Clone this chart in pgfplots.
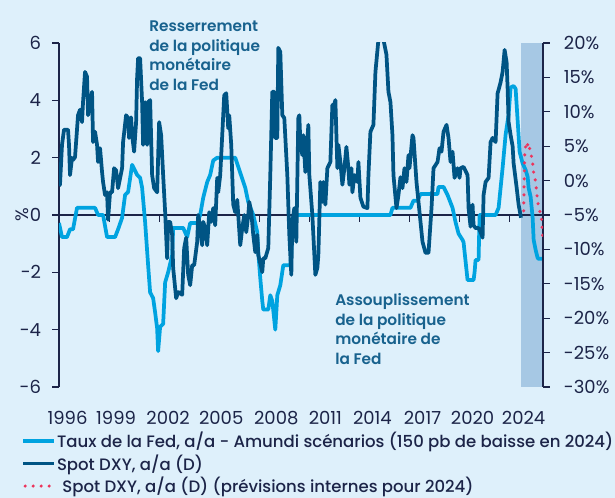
\documentclass[border=0pt]{standalone}
\usepackage{pgfplots}
\pgfplotsset{compat=1.18}
\usepackage{fontspec}
\setmainfont{Poppins}
\newfontfamily\medfont{Poppins Medium}
\newfontfamily\semifont{Poppins SemiBold}
\definecolor{bgcol}{RGB}{222,240,251}
\definecolor{fedcol}{RGB}{0,163,224}
\definecolor{dxycol}{RGB}{0,84,132}
\definecolor{fcstcol}{RGB}{236,52,92}
\definecolor{bandcol}{RGB}{166,200,228}
\definecolor{axiscol}{RGB}{28,36,72}
\definecolor{txtcol}{RGB}{28,36,72}
\definecolor{annocol}{RGB}{24,98,142}
\pgfplotsset{
  base/.style={
    at={(44.25pt,83.25pt)}, anchor=south west,
    scale only axis, width=363pt, height=258pt,
    xmin=1996, xmax=2025,
  },
  /pgf/number format/assume math mode=true,
}
\begin{document}
\begin{tikzpicture}
\fill[bgcol] (0,0) rectangle (461.25pt,373.5pt);
% forecast band
\begin{axis}[base, ymin=-6, ymax=6, hide axis]
\addplot[fill=bandcol, draw=none] coordinates {(2023.66,-6) (2023.66,6) (2024.98,6) (2024.98,-6)};
\end{axis}
% left axis: Fed
\begin{axis}[base, ymin=-6, ymax=6,
  axis y line*=left, axis x line*=middle,
  axis line style={-, draw=axiscol, line width=0.9pt},
  xtick={1999,2002,...,2023}, xticklabels={},
  ytick={-6,-4,...,6},
  tick align=outside, major tick length=5pt,
  tick style={draw=axiscol, line width=0.8pt},
  every tick label/.append style={font=\fontsize{13.5}{16}\selectfont, text=txtcol},
  yticklabel style={anchor=east, inner sep=0pt},
  yticklabel shift=8.25pt,
  ylabel={\%},
  every axis y label/.style={at={(axis description cs:-0.076,0.5)}, rotate=90, anchor=center, font=\fontsize{13.5}{16}\selectfont, text=txtcol},
]
\addplot[fedcol, line width=2.8pt, line join=round] coordinates {
(1996.00,-0.28) (1996.18,-0.77) (1996.48,-0.77) (1996.66,-0.5) (1996.84,-0.5) (1997.08,0.25) (1998.16,0.25) (1998.34,0) (1998.64,0) (1998.88,-0.77) (1999.36,-0.77) (1999.54,-0.5) (1999.78,-0.1) (1999.96,0.7) (2000.14,0.8) (2000.38,1.75) (2000.68,1.4) (2000.86,1.3) (2000.98,0.95) (2001.16,-0.25) (2001.34,-1.75) (2001.46,-2.7) (2001.64,-2.9) (2001.76,-3.4) (2001.88,-3.95) (2001.94,-4.75) (2002.06,-3.9) (2002.24,-3.8) (2002.36,-2.35) (2002.54,-2.0) (2002.78,-1.4) (2002.84,-0.45) (2003.44,-0.45) (2003.68,-0.77) (2003.86,-0.28) (2004.28,-0.28) (2004.46,0) (2004.64,0.6) (2004.88,1.15) (2005.06,1.4) (2005.24,1.9) (2005.48,2.0) (2006.56,2.0) (2006.86,1.47) (2007.16,0.95) (2007.34,0.45) (2007.64,0) (2007.88,-0.6) (2007.94,-1.3) (2008.06,-2.2) (2008.18,-3.0) (2008.24,-3.3) (2008.54,-3.3) (2008.66,-2.8) (2008.78,-3.0) (2008.96,-4.0) (2009.08,-2.8) (2009.26,-2.45) (2009.44,-1.75) (2009.86,-1.75) (2010.04,-0.25) (2010.28,0) (2015.86,0) (2015.98,0.25) (2017.06,0.25) (2017.24,0.5) (2017.48,0.5) (2017.66,0.73) (2018.68,0.73) (2018.74,0.98) (2019.04,0.98) (2019.28,0.7) (2019.58,0.25) (2019.76,-0.25) (2019.94,-0.65) (2020.18,-0.87) (2020.24,-0.95) (2020.48,-2.27) (2020.84,-2.27) (2020.90,-2.0) (2020.96,-1.57) (2021.14,-1.57) (2021.20,0) (2022.16,0) (2022.34,0.25) (2022.58,1.65) (2022.76,2.8) (2022.94,3.5) (2023.06,4.45) (2023.24,4.5) (2023.36,4.4) (2023.48,3.3) (2023.60,2.2) (2023.78,1.8) (2023.96,1.57) (2024.08,1.33) (2024.14,0.94) (2024.26,0.63) (2024.38,-0.1) (2024.44,-0.87) (2024.56,-1.22) (2024.68,-1.5) (2024.74,-1.53) (2025.00,-1.53)
};
\end{axis}
% right axis: DXY
\begin{axis}[base, ymin=-30, ymax=20,
  axis y line*=right, axis x line*=bottom,
  x axis line style={draw=none},
  y axis line style={-, draw=axiscol, line width=0.9pt},
  xtick={1996.51,1999.42,2002.54,2005.72,2009.02,2011.96,2014.78,2017.78,2020.78,2023.84},
  xticklabels={1996,1999,2002,2005,2008,2011,2014,2017,2020,2024},
  x tick style={draw=none},
  ytick={-30,-25,...,20},
  yticklabels={-30\%,-25\%,-20\%,-15\%,-10\%,-5\%,0\%,5\%,10\%,15\%,20\%},
  tick align=outside, major tick length=5pt,
  y tick style={draw=axiscol, line width=0.8pt},
  every tick label/.append style={font=\fontsize{13.5}{16}\selectfont, text=txtcol},
  yticklabel style={anchor=west, inner sep=0pt, xshift=10.5pt},
  xticklabel style={anchor=north, inner sep=0pt, yshift=-12.75pt},
  legend style={at={(axis description cs:-0.0785,-0.128)}, anchor=north west,
    draw=none, fill=none, inner sep=0pt, font=\medfont\fontsize{12.4}{14.5}\selectfont, text=txtcol,
    row sep=2.8pt, nodes={inner sep=0.5pt},
    /tikz/every odd column/.append style={column sep=0.5pt}},
  legend cell align=left,
  legend image code/.code={\draw[#1] (0pt,0pt) -- (23pt,0pt);},
]
\addlegendimage{fedcol, line width=2.8pt}
\addlegendentry{Taux de la Fed, a/a - Amundi scénarios (150 pb de baisse en 2024)}
\addplot[dxycol, line width=2.8pt, line join=round] coordinates {
(1996.00,-0.7) (1996.06,-0.6) (1996.18,5.2) (1996.30,7.4) (1996.54,7.4) (1996.60,5.2) (1996.66,0.8) (1996.78,3.3) (1996.84,3.0) (1996.96,3.4) (1997.14,9.5) (1997.26,10.3) (1997.38,8.5) (1997.44,11.4) (1997.56,15.8) (1997.68,15.1) (1997.74,9.5) (1997.86,11.4) (1997.98,12.9) (1998.04,5.6) (1998.16,7.1) (1998.28,5.2) (1998.34,2.7) (1998.46,4.7) (1998.58,1.25) (1998.64,-0.2) (1998.76,-2.1) (1998.88,-1.7) (1998.94,-5.7) (1999.06,-1.7) (1999.18,-1.7) (1999.30,1.8) (1999.42,1.5) (1999.54,-1.1) (1999.78,1.8) (1999.84,5.6) (2000.02,9.5) (2000.14,9.1) (2000.20,6.2) (2000.32,9.2) (2000.38,6.6) (2000.50,4.2) (2000.62,8.5) (2000.68,14.9) (2000.74,17.8) (2000.86,17.8) (2000.98,11.4) (2001.04,5.2) (2001.16,11.4) (2001.28,5.2) (2001.34,11.4) (2001.46,11.7) (2001.58,0.8) (2001.70,-1.1) (2001.88,-1.7) (2002.00,8.5) (2002.12,6.6) (2002.24,0.8) (2002.36,-4.6) (2002.48,-11.3) (2002.54,-6.0) (2002.66,-6.0) (2002.78,-7.9) (2002.84,-12.7) (2003.02,-17.1) (2003.14,-16.2) (2003.38,-16.6) (2003.50,-9.8) (2003.62,-8.3) (2003.74,-13.7) (2003.86,-15.2) (2003.98,-12.3) (2004.10,-12.3) (2004.28,-8.9) (2004.34,-5.0) (2004.46,-6.9) (2004.58,-9.4) (2004.64,-6.0) (2004.76,-6.9) (2004.88,-9.4) (2005.00,-4.6) (2005.12,-6.0) (2005.24,-4.0) (2005.36,-6.5) (2005.48,0.4) (2005.54,-1.7) (2005.66,0.8) (2005.78,6.6) (2005.90,12.4) (2006.02,12.7) (2006.14,7.6) (2006.20,9.5) (2006.32,5.2) (2006.44,-3.5) (2006.56,-4.6) (2006.68,-2.8) (2006.74,-5.0) (2006.86,-9.4) (2006.98,-6.9) (2007.10,-5.0) (2007.22,-7.5) (2007.34,-5.0) (2007.40,-3.1) (2007.52,-4.6) (2007.64,-7.9) (2007.76,-10.4) (2007.88,-7.9) (2007.94,-10.8) (2008.18,-13.3) (2008.24,-11.3) (2008.36,-11.3) (2008.54,-9.8) (2008.66,0.8) (2008.78,12.9) (2008.90,12.9) (2008.96,6.2) (2009.08,6.2) (2009.14,19.3) (2009.26,18.7) (2009.38,9.5) (2009.50,9.1) (2009.68,0.8) (2009.80,-7.9) (2009.92,-13.7) (2009.98,-6.0) (2010.10,-4.0) (2010.22,-8.9) (2010.34,9.1) (2010.40,9.5) (2010.46,5.6) (2010.58,3.7) (2010.64,6.6) (2010.76,1.25) (2010.94,8.1) (2011.00,0.8) (2011.18,-5.0) (2011.24,-7.9) (2011.36,-13.7) (2011.48,-12.7) (2011.54,-10.8) (2011.66,-0.2) (2011.78,-3.1) (2011.84,-0.2) (2011.96,-3.5) (2012.08,1.8) (2012.26,2.7) (2012.38,11.0) (2012.44,10.6) (2012.56,11.7) (2012.68,1.8) (2012.74,5.2) (2012.86,2.7) (2012.98,-0.6) (2013.10,1.8) (2013.22,4.9) (2013.34,1.8) (2013.40,-0.6) (2013.52,1.8) (2013.58,-1.7) (2013.70,0.8) (2013.88,-0.2) (2013.94,2.7) (2014.06,-2.5) (2014.24,-3.8) (2014.48,-4.0) (2014.54,0.8) (2014.66,7.1) (2014.84,8.1) (2014.96,15.8) (2015.14,20.5) (2015.44,20.5) (2015.62,18.3) (2015.74,12.9) (2015.86,11.4) (2015.98,6.6) (2016.04,0.8) (2016.22,-4.0) (2016.34,-2.1) (2016.46,0.5) (2016.58,-1.1) (2016.70,1.8) (2016.82,-0.2) (2016.94,3.7) (2017.00,1.8) (2017.18,6.6) (2017.24,6.2) (2017.42,-0.2) (2017.54,-3.1) (2017.78,-8.9) (2017.96,-10.5) (2018.14,-10.5) (2018.32,-4.0) (2018.44,1.8) (2018.68,2.7) (2018.80,4.7) (2018.92,4.2) (2019.04,7.1) (2019.22,8.1) (2019.34,6.2) (2019.46,2.7) (2019.58,4.2) (2019.70,0.4) (2019.88,1.8) (2020.00,0.4) (2020.06,1.8) (2020.24,2.0) (2020.48,0.8) (2020.54,-4.0) (2020.66,-6.7) (2020.78,-3.5) (2020.84,-6.5) (2020.96,-6.9) (2021.14,-6.9) (2021.26,-7.5) (2021.38,-8.3) (2021.44,-2.1) (2021.56,-0.2) (2021.74,0.4) (2021.86,5.6) (2021.98,6.2) (2022.16,5.6) (2022.28,12.7) (2022.34,13.2) (2022.46,14.3) (2022.58,15.8) (2022.70,19.0) (2022.82,17.2) (2022.88,13.4) (2022.94,8.5) (2023.06,6.6) (2023.18,5.0) (2023.24,2.5) (2023.42,-1.0) (2023.54,-3.5) (2023.68,-5.4)
};
\addlegendentry{Spot DXY, a/a (D)}
\addplot[fcstcol, line width=2.6pt, line cap=round, dash pattern=on 0pt off 6pt,
  legend image code/.code={\draw[fcstcol, line width=2.6pt, line cap=round, dash pattern=on 0pt off 6pt] (1.5pt,0pt) -- (21pt,0pt);}] coordinates {
(2023.84,-4.4) (2023.87,-0.5) (2023.90,3.6) (2023.96,5.0) (2024.02,5.6) (2024.08,5.2) (2024.14,5.5) (2024.20,4.6) (2024.26,4.2) (2024.38,2.6) (2024.44,1.1) (2024.56,-0.2) (2024.62,-1.7) (2024.68,-3.1) (2024.80,-4.4) (2024.92,-5.7) (2024.95,-7.0) (2024.98,-8.2)
};
\addlegendentry{\hspace{4pt}Spot DXY, a/a (D) (prévisions internes pour 2024)}
\end{axis}
% annotations
\node[anchor=north west, inner sep=0pt, align=left, text=annocol, font=\semifont\fontsize{11.5}{14.6}\selectfont] at (111.75pt,358pt) {Resserrement\\de la politique\\monétaire\\de la Fed};
\node[anchor=north west, inner sep=0pt, align=left, text=annocol, font=\semifont\fontsize{11.5}{14.6}\selectfont] at (251.25pt,153.5pt) {Assouplissement\\de la politique\\monétaire de\\la Fed};
\pgfresetboundingbox
\useasboundingbox (0,0) rectangle (461.25pt,373.5pt);
\end{tikzpicture}
\end{document}
